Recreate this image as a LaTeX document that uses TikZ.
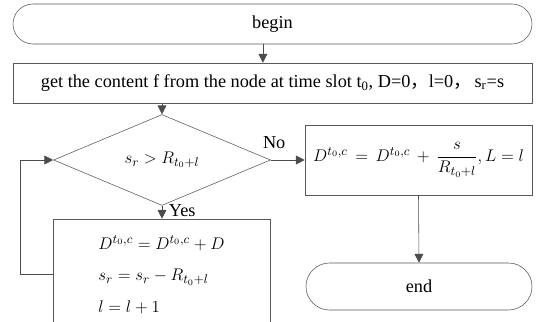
\documentclass[tikz,border=0pt]{standalone}
\usepackage{amsmath}
\usepackage{fontspec}
\setmainfont{Liberation Serif}
\newfontfamily\cjk{Noto Sans CJK SC}
\usetikzlibrary{arrows.meta,positioning,shapes.geometric,shapes.misc}

\begin{document}
\begin{tikzpicture}[
  x=0.25mm, y=-0.25mm,
  font=\fontsize{13}{15}\selectfont,
  startstop/.style={rounded rectangle, draw=black!65, thin, inner sep=0pt,
    minimum height=10mm, align=center},
  process/.style={rectangle, draw=black!65, thin, inner sep=0pt, align=center},
  decision/.style={diamond, draw=black!65, thin, inner sep=0pt,
    minimum width=54.25mm, minimum height=17.5mm},
  flow/.style={-{Triangle[length=2.2mm,width=2.2mm]}, draw=black!70, thin}
]
\useasboundingbox (0,0) rectangle (541,322);
\node[startstop, minimum width=129.75mm] (begin) at (272.5,24) {begin};
\node[process, minimum width=129.75mm, minimum height=10mm] (init) at (272.5,83)
  {get the content f from the node at time slot t\textsubscript{0}, D=0{\cjk ，}l=0{\cjk ，}\,s\textsubscript{r}=s};
\node[decision] (cond) at (162,160) {$s_r > R_{t_0+l}$};
\node[process, minimum width=54.25mm, minimum height=27.75mm, align=left] (update) at (161.5,274.5)
  {$D^{t_0,c} = D^{t_0,c} + D$\\[2.6mm] $s_r = s_r - R_{t_0+l}$\\[2.6mm] $l = l + 1$};
\node[process, minimum width=56.75mm, minimum height=17.5mm] (calc) at (418.5,160)
  {$D^{t_0,c} \,=\, D^{t_0,c} \,+\, \dfrac{s}{R_{t_0+l}}, L = l$};
\node[startstop, minimum width=56.5mm, minimum height=11.75mm] (end) at (419,286.5) {end};

\draw[flow] ([xshift=-2.4mm]begin.south) -- ([xshift=-2.4mm]init.north);
\draw[flow] (init.south -| cond.north) -- (cond.north);
\draw[flow] (cond.east) -- node[above, pos=0.1, yshift=1.5mm] {No} (calc.west);
\draw[flow] (cond.south) -- node[right, pos=0.4, xshift=0.5mm] {Yes} (update.north -| cond.south);
\draw[flow] (update.west) -- ++(-32,0) |- (cond.west);
\draw[flow] (calc.south) -- (end.north);
\end{tikzpicture}
\end{document}
